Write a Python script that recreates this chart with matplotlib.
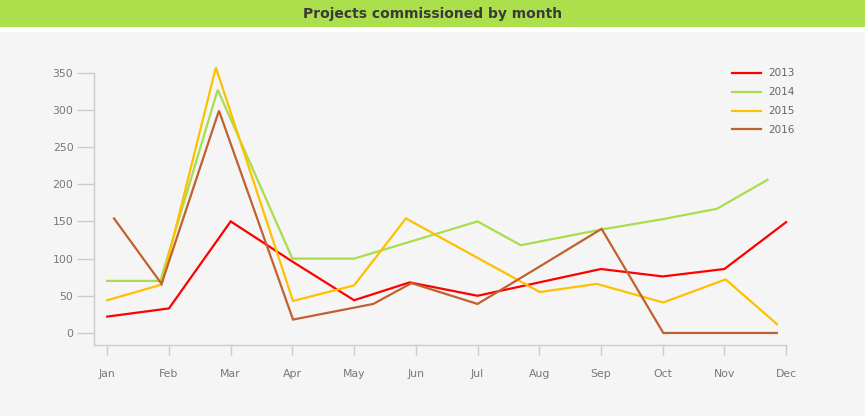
import matplotlib.pyplot as plt
from matplotlib.patches import Rectangle

# month categories on a point scale
months = ['Jan', 'Feb', 'Mar', 'Apr', 'May', 'Jun', 'Jul', 'Aug', 'Sep', 'Oct', 'Nov', 'Dec']
y_ticks = [0, 50, 100, 150, 200, 250, 300, 350]

# each series: position along month axis (0 = Jan) and value
x_2013 = [0, 1, 2, 3, 4, 4.9, 6, 7, 8, 9, 10, 11]
v_2013 = [22, 33, 150, 96, 44, 68, 50, 68, 86, 76, 86, 149]

x_2014 = [0, 0.86, 1.79, 3.0, 4.0, 5.0, 6.0, 6.7, 8.0, 9.0, 9.88, 10.7]
v_2014 = [70, 70, 327, 100, 100, 125, 150, 118, 139, 153, 167, 206]

x_2015 = [0, 0.88, 1.76, 3.01, 4.0, 4.84, 6.0, 7.01, 7.93, 9.01, 10.02, 10.85]
v_2015 = [44, 65, 357, 43, 64, 154, 101, 55, 66, 41, 72, 12]

x_2016 = [0.11, 0.88, 1.81, 3.01, 4.31, 4.93, 6.0, 7.0, 8.01, 9.01, 10.0, 10.85]
v_2016 = [154, 66, 299, 18, 39, 67, 39, 89, 140, 0, 0, 0]

series = [('2013', x_2013, v_2013, '#ff0000'),
          ('2014', x_2014, v_2014, '#a9dd4b'),
          ('2015', x_2015, v_2015, '#ffc000'),
          ('2016', x_2016, v_2016, '#c0612e')]

W, H = 865, 416
fig = plt.figure(figsize=(W / 100, H / 100), dpi=100)
fig.patch.set_facecolor('white')

# title bar and grey panel
fig.patches.append(Rectangle((0, 1 - 27 / H), 1, 27 / H, transform=fig.transFigure,
                             facecolor='#acdf4c', edgecolor='none', zorder=-10))
fig.patches.append(Rectangle((0, 0), 1, 1 - 32 / H, transform=fig.transFigure,
                             facecolor='#f5f5f5', edgecolor='none', zorder=-10))
fig.text(0.5, 1 - 14 / H, 'Projects commissioned by month', ha='center', va='center',
         fontsize=10, fontweight='bold', color='#3a3a3a')

ax = fig.add_axes([94.3 / W, 1 - 345 / H, (786.1 - 94.3) / W, (345 - 72.7) / H])
ax.set_facecolor('none')
ax.set_zorder(5)

for name, xs, vs, col in series:
    ax.plot(xs, vs, color=col, lw=1.6, label=name, solid_joinstyle='miter', clip_on=False)

ax.set_xlim(-0.21, 11.0)
ax.set_ylim(-16.2, 350)

ax.set_xticks(range(len(months)))
ax.set_xticklabels(months)
ax.set_yticks(y_ticks)

for s in ['top', 'right']:
    ax.spines[s].set_visible(False)
for s in ['left', 'bottom']:
    ax.spines[s].set_color('#cccccc')
    ax.spines[s].set_linewidth(1)

ax.tick_params(axis='y', length=12, width=1, color='#cccccc', labelcolor='#777777',
               labelsize=7.8, pad=3)
ax.tick_params(axis='x', length=7, width=1, color='#cccccc', labelcolor='#777777',
               labelsize=7.8, pad=10)

leg = ax.legend(loc='upper left', bbox_to_anchor=(628 / (786.1 - 94.3), 1.05),
                frameon=False, fontsize=7.5, handlelength=2.8, labelspacing=0.85,
                handletextpad=0.7)
for t in leg.get_texts():
    t.set_color('#666666')

fig.savefig('out.png', dpi=100, facecolor=fig.get_facecolor())
